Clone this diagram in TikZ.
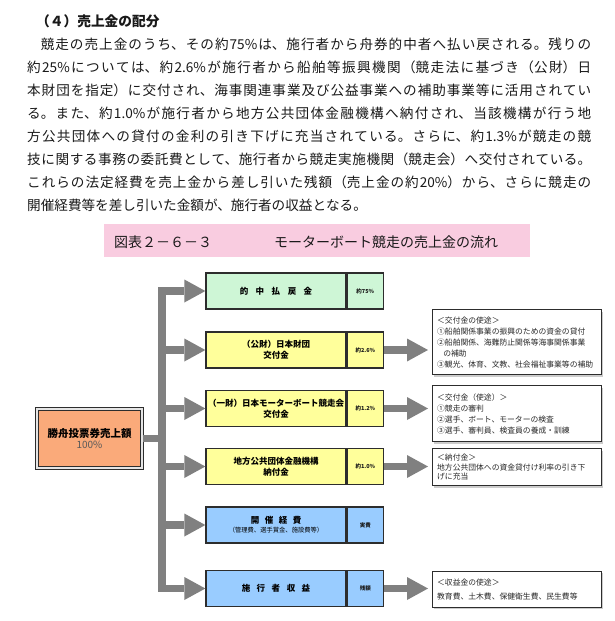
\documentclass[tikz,border=0pt]{standalone}
\usepackage{fontspec}
\setmainfont{Noto Sans CJK JP}
\usetikzlibrary{arrows.meta,shadows,calc}
\definecolor{txt}{RGB}{25,25,25}
\definecolor{notetxt}{RGB}{40,40,40}
\definecolor{arrgray}{RGB}{128,128,128}
\definecolor{bord}{RGB}{45,45,45}
\definecolor{gfill}{RGB}{206,246,214}
\definecolor{yfill}{RGB}{255,255,155}
\definecolor{bfill}{RGB}{153,204,255}
\definecolor{sfill}{RGB}{250,170,122}
\definecolor{pinkbar}{RGB}{249,204,224}
\newcommand{\gapx}[1]{\hspace{#1pt}}
\begin{document}
\begin{tikzpicture}[x=1pt,y=-1pt,
  boxlab/.style={draw=bord, line width=1.3pt, minimum width=140pt, minimum height=36pt,
    inner sep=0pt, align=center, font=\fontsize{8.5}{11}\selectfont\bfseries, text=black},
  pctbox/.style={draw=bord, line width=1.3pt, minimum width=36pt, minimum height=36pt,
    inner sep=0pt, anchor=west, font=\fontsize{5.5}{6}\selectfont\bfseries, text=txt},
  notebox/.style={draw=bord, line width=1.3pt, fill=white, anchor=north west,
    minimum width=169pt, text width=160pt, inner xsep=4.5pt, inner ysep=4pt, align=left,
    font=\fontsize{7.8}{11}\selectfont, text=notetxt,
    drop shadow={shadow xshift=1.5pt, shadow yshift=-2pt, opacity=0.2, fill=black}},
  garrow/.style={draw=arrgray, line width=7.5pt,
    -{Triangle[length=21pt,width=23pt,line width=0pt]}},
  gline/.style={draw=arrgray, line width=7.5pt},
]
\useasboundingbox (0,0) rectangle (614,621);
\fill[white] (0,0) rectangle (614,621);

% heading and paragraph
\node[anchor=west, inner sep=0pt, font=\fontsize{13.7}{16}\selectfont\bfseries, text=txt] (head) at (36,21) {（４）売上金の配分};
\node[anchor=north west, inner sep=0pt, text width=564pt, align=justify,
  font=\fontsize{13.6}{22.9}\selectfont, text=txt] (para) at (27,38)
{\XeTeXlinebreaklocale "ja"\XeTeXlinebreakskip=0pt plus 3pt\relax
\hspace*{1em}競走の売上金のうち、その約75\%は、施行者から舟券的中者へ払い戻される。残りの\linebreak
約25\%については、約2.6\%が施行者から船舶等振興機関（競走法に基づき（公財）日\linebreak
本財団を指定）に交付され、海事関連事業及び公益事業への補助事業等に活用されてい\linebreak
る。また、約1.0\%が施行者から地方公共団体金融機構へ納付され、当該機構が行う地\linebreak
方公共団体への貸付の金利の引き下げに充当されている。さらに、約1.3\%が競走の競\linebreak
技に関する事務の委託費として、施行者から競走実施機関（競走会）へ交付されている。\linebreak
これらの法定経費を売上金から差し引いた残額（売上金の約20\%）から、さらに競走の\linebreak
開催経費等を差し引いた金額が、施行者の収益となる。};

% title bar
\node[fill=pinkbar, minimum width=426pt, minimum height=33pt, anchor=north west, inner sep=0pt] (bar) at (104,224) {};
\node[anchor=west, inner sep=0pt, font=\fontsize{14}{16}\selectfont, text=txt] (tnum) at (114,242.5) {図表２－６－３};
\node[anchor=west, inner sep=0pt, font=\fontsize{14}{16}\selectfont, text=txt] (ttl) at (274,242.5) {モーターボート競走の売上金の流れ};

% source box
\node[draw=bord, line width=1.1pt, double=white!80!gray, double distance=1.1pt, fill=sfill,
  minimum width=105pt, minimum height=59pt, inner sep=0pt, align=center] (src) at (89.5,438.5)
  {{\fontsize{10.5}{14}\selectfont\bfseries 勝舟投票券売上額}\\[-1pt]{\fontsize{10}{12}\selectfont\color{black!65}100\%}};

% main boxes
\node[boxlab, fill=gfill] (b1) at (276,291) {的\gapx{7.5}中\gapx{7.5}払\gapx{7.5}戻\gapx{7.5}金};
\node[pctbox, fill=gfill] (p1) at (b1.east) {約75\%};
\node[boxlab, fill=yfill] (b2) at (276,350) {（公財）日本財団\\交付金};
\node[pctbox, fill=yfill] (p2) at (b2.east) {約2.6\%};
\node[boxlab, fill=yfill] (b3) at (276,408.5) {（一財）日本モーターボート競走会\\交付金};
\node[pctbox, fill=yfill] (p3) at (b3.east) {約1.2\%};
\node[boxlab, fill=yfill] (b4) at (276,466.5) {地方公共団体金融機構\\納付金};
\node[pctbox, fill=yfill] (p4) at (b4.east) {約1.0\%};
\node[boxlab, fill=bfill] (b5) at (276,525) {開\gapx{5.5}催\gapx{5.5}経\gapx{5.5}費\\[-2pt]{\fontsize{6.3}{7}\selectfont\mdseries （管理費、選手賞金、施設費等）}};
\node[pctbox, fill=bfill] (p5) at (b5.east) {実費};
\node[boxlab, fill=bfill] (b6) at (276,588.5) {施\gapx{6.5}行\gapx{6.5}者\gapx{6.5}収\gapx{6.5}益};
\node[pctbox, fill=bfill] (p6) at (b6.east) {残額};

% note boxes
\node[notebox, minimum height=65pt] (n1) at (432,309)
  {＜交付金の使途＞\\①船舶関係事業の振興のための資金の貸付\\②船舶関係、海難防止関係等海事関係事業\\\hspace*{0.8em}の補助\\③観光、体育、文教、社会福祉事業等の補助};
\node[notebox, minimum height=56pt] (n2) at (432,385)
  {＜交付金（使途）＞\\①競走の審判\\②選手、ボート、モーターの検査\\③選手、審判員、検査員の養成・訓練};
\node[notebox, minimum height=37pt, font=\fontsize{7.8}{9.5}\selectfont] (n3) at (432,448)
  {＜納付金＞\\地方公共団体への資金貸付け利率の引き下\\げに充当};
\node[notebox, minimum height=36pt, font=\fontsize{7.8}{14}\selectfont] (n4) at (432,570.5)
  {＜収益金の使途＞\\教育費、土木費、保健衛生費、民生費等};

% connectors
\coordinate (trunk) at (162,438.5);
\draw[gline] (src.east) -- (trunk);
\draw[garrow] (trunk |- b6.west) -- (trunk |- b1.west) -- (b1.west);
\draw[garrow] (trunk |- b1.west) -- (trunk |- b6.west) -- (b6.west);
\foreach \b in {b2,b3,b4,b5} {
  \draw[garrow] (trunk |- \b.west) -- (\b.west);
}
\draw[garrow, shorten >=4pt] (p2.east) -- (p2.east -| n1.west);
\draw[garrow, shorten >=4pt] (p3.east) -- (p3.east -| n2.west);
\draw[garrow, shorten >=4pt] (p4.east) -- (p4.east -| n3.west);
\draw[garrow, shorten >=4pt] (p6.east) -- (p6.east -| n4.west);
\end{tikzpicture}
\end{document}
